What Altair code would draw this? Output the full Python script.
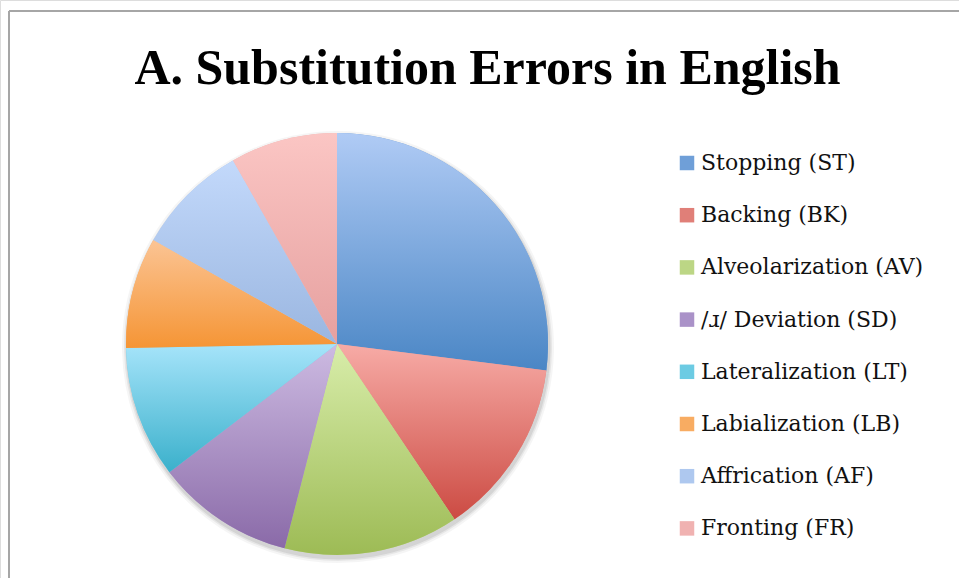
import altair as alt
import pandas as pd

categories = ["Stopping (ST)", "Backing (BK)", "Alveolarization (AV)", "/ɹ/ Deviation (SD)",
              "Lateralization (LT)", "Labialization (LB)", "Affrication (AF)", "Fronting (FR)"]
values = [27.0, 13.6, 13.4, 10.6, 10.1, 8.5, 8.6, 8.2]
top_colors = ["#b0cbf5", "#f7aba6", "#d8edaa", "#cdbbe2", "#a6e4fa", "#fbc494", "#c3d9fb", "#fbc6c4"]
bottom_colors = ["#4a86c5", "#cc4b43", "#9dbb55", "#8a6aa8", "#3ab0cb", "#f59535", "#9ab6e0", "#e6a09f"]
mid_colors = ["#6f9fd8", "#e07f78", "#bcd685", "#aa92c8", "#6ccbe3", "#f8ac62", "#aec8ef", "#f0b2b1"]

df = pd.DataFrame({"category": categories, "value": values, "order": list(range(len(categories)))})

CX, CY, R = 337, 344, 211

base = alt.Chart(df).transform_window(
    cum="sum(value)", sort=[alt.SortField("order")], frame=[None, 0]
).transform_calculate(start="datum.cum - datum.value")

theta_scale = alt.Scale(domain=[0, sum(values)])

# soft shadow under the pie
shadow_layers = []
for dr, op in [(5, 0.04), (3, 0.06), (1.5, 0.08)]:
    shadow_layers.append(
        base.mark_arc(radius=R + dr, color="#000000", opacity=op).encode(
            theta=alt.Theta("start:Q", scale=theta_scale),
            theta2="cum:Q",
            x=alt.value(CX + 1), y=alt.value(CY + 3),
        )
    )

legend_layer = base.mark_arc(radius=R).encode(
    theta=alt.Theta("start:Q", scale=theta_scale),
    theta2="cum:Q",
    color=alt.Color(
        "category:N",
        scale=alt.Scale(domain=categories, range=mid_colors),
        sort=categories,
        legend=alt.Legend(
            title=None, orient="none", legendX=676, legendY=152,
            symbolType="square", symbolSize=210, symbolStrokeWidth=0,
            labelFont="DejaVu Serif", labelFontSize=22, labelColor="#111111",
            labelOffset=3, labelLimit=400, rowPadding=30.2, padding=0,
        ),
    ),
    x=alt.value(CX), y=alt.value(CY),
)

layers = [legend_layer]
for cat, top, bot in zip(categories, top_colors, bottom_colors):
    grad = {"gradient": "linear", "x1": 0, "y1": 0, "x2": 0, "y2": 1,
            "stops": [{"offset": 0, "color": top}, {"offset": 1, "color": bot}]}
    layers.append(
        base.transform_filter(alt.datum.category == cat).mark_arc(radius=R, fill=grad).encode(
            theta=alt.Theta("start:Q", scale=theta_scale),
            theta2="cum:Q",
            x=alt.value(CX), y=alt.value(CY),
        )
    )

frame_top = alt.Chart(df).mark_rule(color="#a6a6a6", strokeWidth=1.5).encode(
    x=alt.value(9), x2=alt.value(959), y=alt.value(11))
frame_left = alt.Chart(df).mark_rule(color="#a6a6a6", strokeWidth=1.5).encode(
    x=alt.value(9), y=alt.value(11), y2=alt.value(578))

chart = alt.layer(frame_top, frame_left, *shadow_layers, *layers).properties(
    width=959, height=578,
    autosize=alt.AutoSizeParams(type="none"),
    padding=0,
    title=alt.TitleParams(
        "A. Substitution Errors in English", font="Liberation Serif", fontSize=50,
        fontWeight="bold", anchor="middle", color="#000000", baseline="alphabetic",
        offset=0, dx=8, dy=134,
    ),
).configure_view(stroke=None).configure(background="white")

chart.save("out.html", embed_options={"renderer": "svg", "actions": False})
